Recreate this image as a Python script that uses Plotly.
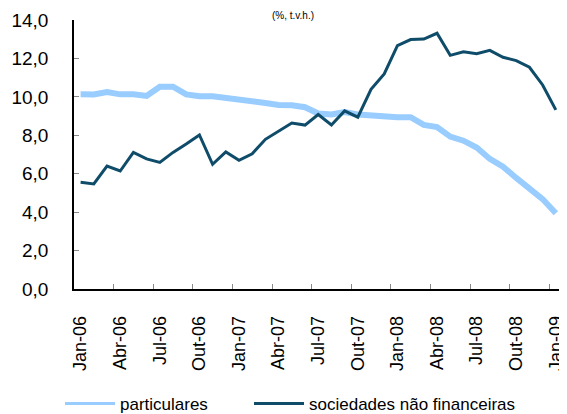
import plotly.graph_objects as go

months = ["Jan", "Fev", "Mar", "Abr", "Mai", "Jun", "Jul", "Ago", "Set", "Out", "Nov", "Dez"]
categories = [f"{months[m]}-{y:02d}" for y in (6, 7, 8) for m in range(12)] + ["Jan-09"]

particulares = [10.13, 10.12, 10.25, 10.13, 10.13, 10.05, 10.53, 10.53, 10.13, 10.03,
                10.03, 9.96, 9.87, 9.77, 9.68, 9.58, 9.56, 9.46, 9.13, 9.08,
                9.21, 9.08, 9.02, 9.02, 8.94, 8.94, 8.54, 8.43, 7.93, 7.72,
                7.36, 6.77, 6.37, 5.78, 5.27, 4.68, 3.94]

sociedades = [5.55, 5.47, 6.40, 6.14, 7.11, 6.77, 6.59, 7.11, 7.55, 8.02,
              6.49, 7.13, 6.70, 7.04, 7.79, 8.22, 8.64, 8.53, 9.08, 8.54,
              9.27, 8.94, 10.39, 11.19, 12.67, 12.98, 13.01, 13.31, 12.16, 12.35,
              12.25, 12.42, 12.06, 11.89, 11.54, 10.62, 9.32]

series_names = ["particulares", "sociedades não financeiras"]
y_ticks = [0, 2, 4, 6, 8, 10, 12, 14]
title_text = "(%, t.v.h.)"

idx = list(range(len(categories)))
label_idx = idx[::3]
label_text = [categories[i] for i in label_idx]
boundary_ticks = [i - 0.5 for i in label_idx]

FONT = "Liberation Sans, Arial, sans-serif"
C_LIGHT = "#99CCFF"
C_DARK = "#0F4C6A"

fig = go.Figure()
fig.add_trace(go.Scatter(x=idx, y=particulares, name=series_names[0], mode="lines",
                         line=dict(color=C_LIGHT, width=6), showlegend=False))
fig.add_trace(go.Scatter(x=idx, y=sociedades, name=series_names[1], mode="lines",
                         line=dict(color=C_DARK, width=3), showlegend=False))
# legend entries (thin line samples, as in the original legend)
fig.add_trace(go.Scatter(x=[None], y=[None], name=series_names[0], mode="lines",
                         line=dict(color=C_LIGHT, width=3), legend="legend"))
fig.add_trace(go.Scatter(x=[None], y=[None], name=series_names[1], mode="lines",
                         line=dict(color=C_DARK, width=3), legend="legend2"))
# invisible trace to carry the secondary x axis (boundary tick marks)
fig.add_trace(go.Scatter(x=[0], y=[0], xaxis="x2", mode="markers",
                         marker=dict(opacity=0), showlegend=False, hoverinfo="skip"))

W, H = 551, 406
xr = [-0.5, 36.24]
leg_common = dict(orientation="h", xref="container", yref="container",
                  xanchor="left", yanchor="middle", y=10 / H,
                  font=dict(size=17), itemwidth=50, bgcolor="rgba(0,0,0,0)")
fig.update_layout(
    width=W, height=H,
    margin=dict(l=66, r=0, t=12, b=H - 281, autoexpand=False),
    paper_bgcolor="white", plot_bgcolor="white",
    separators=", ",
    font=dict(family=FONT, size=17, color="black"),
    showlegend=True,
    legend=dict(x=52 / W, **leg_common),
    legend2=dict(x=241 / W, **leg_common),
    xaxis=dict(range=xr, tickmode="array", tickvals=label_idx, ticktext=label_text,
               tickangle=-90, ticks="", showline=True, linecolor="black", linewidth=1.5,
               showgrid=False, zeroline=False, tickfont=dict(size=18),
               ticklabelstandoff=18, ticklabeloverflow="allow", automargin=False),
    xaxis2=dict(range=xr, overlaying="x", anchor="y", side="bottom",
                tickmode="array", tickvals=boundary_ticks, showticklabels=False,
                ticks="inside", ticklen=5, tickcolor="#888888", tickwidth=1,
                showgrid=False, zeroline=False, showline=False, automargin=False),
    yaxis=dict(range=[0, 14], tickmode="array", tickvals=y_ticks, tickformat=".1f",
               ticks="inside", ticklen=5, tickcolor="#888888",
               showline=True, linecolor="black", linewidth=1.5,
               showgrid=False, zeroline=False, tickfont=dict(size=19),
               ticklabelstandoff=20, automargin=False),
    annotations=[dict(text=title_text, xref="paper", yref="paper",
                      x=(285 - 66) / (W - 66), y=1 + 12 / 269, xanchor="center", yanchor="top",
                      showarrow=False, font=dict(size=10))],
)

fig.write_html("out.html")
